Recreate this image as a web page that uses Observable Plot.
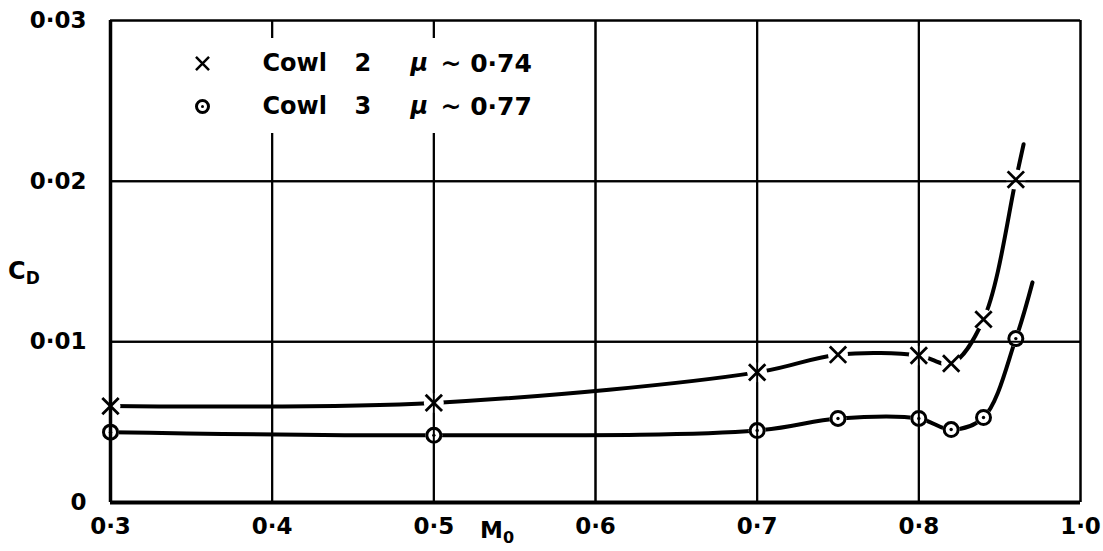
<!DOCTYPE html>
<html>
<head>
<meta charset="utf-8">
<script src="https://cdn.jsdelivr.net/npm/d3@7"></script>
<script src="https://cdn.jsdelivr.net/npm/@observablehq/plot@0.6"></script>
<style>
  html, body { margin: 0; padding: 0; background: #fff; }
  #chart { width: 1103px; height: 551px; }
</style>
</head>
<body>
<div id="chart"></div>
<script>
// ---- data ----
const mach = [0.3, 0.5, 0.7, 0.75, 0.8, 0.82, 0.84, 0.86];
const cowl2 = [0.0060, 0.0062, 0.0081, 0.0092, 0.00915, 0.00865, 0.0114, 0.0201];
const cowl3 = [0.00438, 0.00418, 0.00448, 0.00523, 0.00523, 0.00454, 0.00529, 0.0102];
// ends of the faired curves beyond the last point
const cowl2End = [0.8648, 0.0223];
const cowl3End = [0.8703, 0.0137];
const xTicks = [0.3, 0.4, 0.5, 0.6, 0.7, 0.8, 0.9];
const xTickLabels = ["0·3", "0·4", "0·5", "0·6", "0·7", "0·8", "1·0"];
const yTicks = [0, 0.01, 0.02, 0.03];
const yTickLabels = ["0", "0·01", "0·02", "0·03"];
const legendNames = ["Cowl", "Cowl"];
const legendNums = ["2", "3"];
const legendMuValues = ["~ 0·74", "~ 0·77"];

const pts2 = mach.map((m, i) => ({x: m, y: cowl2[i]}));
const pts3 = mach.map((m, i) => ({x: m, y: cowl3[i]}));
const line2 = [...pts2, {x: cowl2End[0], y: cowl2End[1]}];
const line3 = [...pts3, {x: cowl3End[0], y: cowl3End[1]}];

const FONT = "DejaVu Sans, sans-serif";

const fullGrid = [0.6, 0.7, 0.8];
const brokenGrid = [0.4, 0.5];
const grid = () => [
  Plot.ruleX(fullGrid, {x: d => d, y1: 0, y2: 0.03, stroke: "#000", strokeWidth: 2}),
  Plot.ruleX(brokenGrid, {x: d => d, y1: 0, y2: 0.02297, stroke: "#000", strokeWidth: 2}),
  Plot.ruleX(brokenGrid, {x: d => d, y1: 0.02888, y2: 0.03, stroke: "#000", strokeWidth: 2}),
  Plot.ruleY([0.01, 0.02], {y: d => d, stroke: "#000", strokeWidth: 2})
];

const legText = (txt, dx, dy, extra = {}) =>
  Plot.text([txt], {frameAnchor: "top-left", dx, dy, text: d => d, textAnchor: "start",
    lineAnchor: "middle", fontSize: 24, fontWeight: "bold", ...extra});

const chart = Plot.plot({
  width: 1103,
  height: 551,
  marginLeft: 110,
  marginRight: 23,
  marginTop: 20,
  marginBottom: 49,
  style: {fontFamily: FONT, background: "#fff", color: "#000", overflow: "visible"},
  x: {domain: [0.3, 0.9], label: null},
  y: {domain: [0, 0.03], label: null},
  marks: [
    ...grid(),
    Plot.line(line2, {x: "x", y: "y", curve: "catmull-rom", stroke: "#000", strokeWidth: 4}),
    Plot.line(line3, {x: "x", y: "y", curve: "catmull-rom", stroke: "#000", strokeWidth: 4}),
    // white halos that break the curves at the markers
    Plot.dot(pts2, {x: "x", y: "y", r: 10, fill: "#fff", stroke: null}),
    Plot.dot(pts3, {x: "x", y: "y", r: 8.5, fill: "#fff", stroke: null}),
    ...grid(),
    // frame
    Plot.ruleX([0.3], {x: d => d, y1: 0, y2: 0.03, stroke: "#000", strokeWidth: 3.5}),
    Plot.ruleY([0], {y: d => d, x1: 0.3, x2: 0.9, stroke: "#000", strokeWidth: 4}),
    Plot.ruleY([0.03], {y: d => d, x1: 0.3, x2: 0.9, stroke: "#000", strokeWidth: 2.5}),
    Plot.ruleX([0.9], {x: d => d, y1: 0, y2: 0.03, stroke: "#000", strokeWidth: 2.5}),
    // markers
    Plot.dot(pts2, {x: "x", y: "y", symbol: "times", r: 7.5, stroke: "#000", strokeWidth: 2.8}),
    Plot.dot(pts3, {x: "x", y: "y", r: 7, fill: "none", stroke: "#000", strokeWidth: 3}),
    Plot.dot(pts3, {x: "x", y: "y", r: 1.7, fill: "#000", stroke: null}),
    // axes
    Plot.axisX({ticks: xTicks, tickSize: 0, tickPadding: 15, fontSize: 23, fontWeight: "bold", label: null,
      tickFormat: d => xTickLabels[xTicks.indexOf(d)] ?? ""}),
    Plot.axisY({ticks: yTicks, tickSize: 0, tickPadding: 24, fontSize: 23, fontWeight: "bold", label: null,
      tickFormat: d => yTickLabels[yTicks.findIndex(t => Math.abs(t - d) < 1e-9)] ?? ""}),
    // legend
    Plot.dot([0], {frameAnchor: "top-left", dx: 92, dy: 43, symbol: "times", r: 6, stroke: "#000", strokeWidth: 2.5}),
    Plot.dot([0], {frameAnchor: "top-left", dx: 92, dy: 86, r: 6, fill: "none", stroke: "#000", strokeWidth: 3}),
    Plot.dot([0], {frameAnchor: "top-left", dx: 92, dy: 86, r: 1.5, fill: "#000", stroke: null}),
    legText(legendNames[0], 152, 43),
    legText(legendNames[1], 152, 86),
    legText(legendNums[0], 244, 43),
    legText(legendNums[1], 244, 86),
    legText("μ", 300, 43, {fontStyle: "italic"}),
    legText("μ", 300, 86, {fontStyle: "italic"}),
    legText(legendMuValues[0], 330, 43, {fontSize: 25}),
    legText(legendMuValues[1], 330, 86, {fontSize: 25})
  ]
});

// axis titles with subscripts
const svg = d3.select(chart);
const cd = svg.append("text")
  .attr("x", 8).attr("y", 279).attr("text-anchor", "start")
  .attr("font-family", FONT).attr("font-size", 24).attr("font-weight", "bold").attr("fill", "#000");
cd.append("tspan").text("C");
cd.append("tspan").attr("font-size", 17).attr("dy", 5).text("D");

const m0 = svg.append("text")
  .attr("x", 480).attr("y", 538).attr("text-anchor", "start")
  .attr("font-family", FONT).attr("font-size", 23).attr("font-weight", "bold").attr("fill", "#000");
m0.append("tspan").text("M");
m0.append("tspan").attr("font-size", 16).attr("dy", 5).text("0");

document.getElementById("chart").appendChild(chart);
</script>
</body>
</html>
